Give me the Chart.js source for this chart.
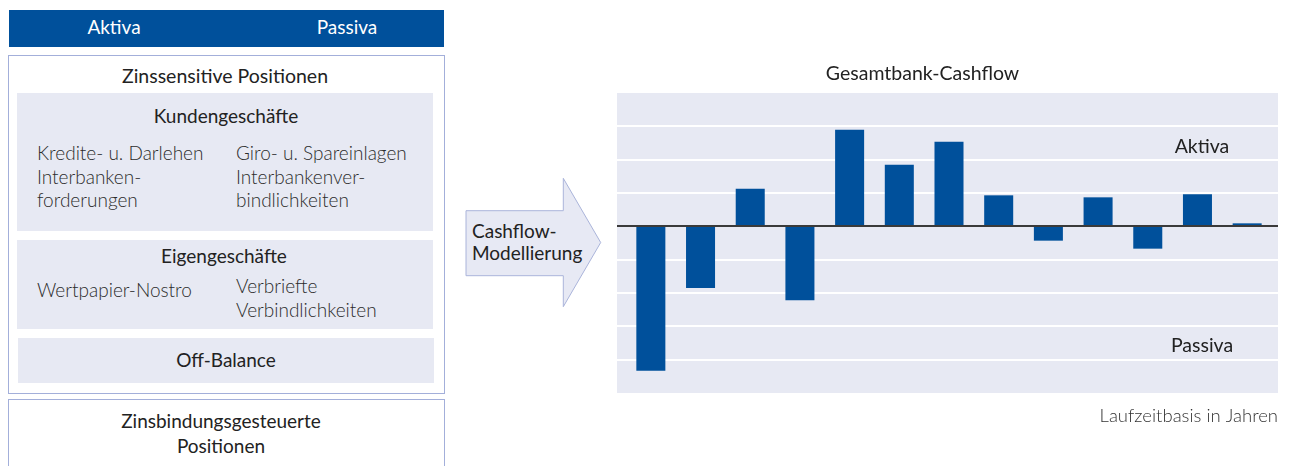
<!DOCTYPE html>
<html><head><meta charset="utf-8">
<script src="https://cdn.jsdelivr.net/npm/chart.js@4.4.1/dist/chart.umd.min.js"></script>
<style>
html,body{margin:0;padding:0;background:#fff;}
body{width:1292px;height:466px;position:relative;overflow:hidden;font-family:Lato,"Noto Sans",sans-serif;}
.t{position:absolute;font-size:19px;line-height:23.5px;color:#222;white-space:nowrap;}
.c{transform:translateX(-50%);text-align:center;}
.l{font-weight:300;color:#2c2c2c;}
.w{color:#fff;}
.box{position:absolute;border:1.5px solid #a3afda;box-sizing:border-box;background:#fff;}
.gray{position:absolute;background:#e7e9f3;}
#c{position:absolute;left:0;top:0;z-index:5;pointer-events:none;}
</style></head>
<body>
<div style="position:absolute;left:9px;top:10px;width:435px;height:37px;background:#00509b;"></div>
<div class="t c w" style="left:114px;top:15px;">Aktiva</div>
<div class="t c w" style="left:347px;top:15px;">Passiva</div>

<div class="box" style="left:8px;top:55px;width:437px;height:339px;"></div>
<div class="t c" style="left:225px;top:64px;font-size:19.5px;">Zinssensitive Positionen</div>

<div class="gray" style="left:17px;top:93px;width:416px;height:138px;"></div>
<div class="t c" style="left:226px;top:104px;">Kundengeschäfte</div>
<div class="t l" style="left:37px;top:141px;">Kredite- u. Darlehen<br>Interbanken-<br>forderungen</div>
<div class="t l" style="left:236px;top:141px;">Giro- u. Spareinlagen<br>Interbankenver-<br>bindlichkeiten</div>

<div class="gray" style="left:17px;top:240px;width:416px;height:89px;"></div>
<div class="t c" style="left:224px;top:244px;">Eigengeschäfte</div>
<div class="t l" style="left:37px;top:278px;">Wertpapier-Nostro</div>
<div class="t l" style="left:236px;top:274px;">Verbriefte<br>Verbindlichkeiten</div>

<div class="gray" style="left:18px;top:338px;width:416px;height:45px;"></div>
<div class="t c" style="left:226px;top:348px;">Off-Balance</div>

<div class="box" style="left:8px;top:399px;width:437px;height:80px;"></div>
<div class="t c" style="left:221px;top:408px;line-height:25px;">Zinsbindungsgesteuerte<br>Positionen</div>

<svg style="position:absolute;left:0;top:0;" width="1292" height="466">
<polygon points="466,210.7 563.3,210.7 563.3,178.3 600.7,242.5 563.3,306.7 563.3,275.7 466,275.7" fill="#e7e9f4" stroke="#aab4da" stroke-width="1"/>
</svg>
<div class="t" style="left:472px;top:220px;line-height:21.5px;">Cashflow-<br>Modellierung</div>

<canvas id="c" width="1292" height="466"></canvas>
<script>
// Laufzeitbänder (Jahre) und Gesamtbank-Cashflow
const years = ['1','2','3','4','5','6','7','8','9','10','11','12','13'];
const cashflow = [-4.33, -1.85, 1.13, -2.22, 2.90, 1.85, 2.54, 0.93, -0.43, 0.87, -0.67, 0.96, 0.09];
const yMin = -5;
const yMax = 4;
const chartTitle = 'Gesamtbank-Cashflow';
const upperLabel = 'Aktiva';
const lowerLabel = 'Passiva';
const axisCaption = 'Laufzeitbasis in Jahren';

const plotDecor = {
  id: 'plotDecor',
  beforeDatasetsDraw(chart) {
    const {ctx, chartArea: a, scales: {y}} = chart;
    const L = a.left - 9, R = a.right + 6;
    ctx.save();
    ctx.fillStyle = '#e7e9f3';
    ctx.fillRect(L, a.top, R - L, a.height);
    y.ticks.forEach(t => {
      if (t.value === yMin || t.value === yMax || t.value === 0) return;
      const py = Math.round(y.getPixelForValue(t.value));
      ctx.strokeStyle = '#ffffff';
      ctx.lineWidth = 2;
      ctx.beginPath(); ctx.moveTo(L, py); ctx.lineTo(R, py); ctx.stroke();
    });
    ctx.restore();
  },
  afterDatasetsDraw(chart) {
    const {ctx, chartArea: a, scales: {y}} = chart;
    const L = a.left - 9, R = a.right + 6;
    const py = Math.round(y.getPixelForValue(0));
    ctx.save();
    ctx.strokeStyle = '#3a3a3a';
    ctx.lineWidth = 2;
    ctx.beginPath(); ctx.moveTo(L, py); ctx.lineTo(R, py); ctx.stroke();
    ctx.fillStyle = '#222';
    ctx.font = '19.5px Lato, "Noto Sans", sans-serif';
    ctx.textBaseline = 'alphabetic';
    ctx.textAlign = 'center';
    ctx.fillText(chartTitle, (L + R) / 2 - 25, a.top - 13);
    ctx.fillText(upperLabel, a.right - 70, y.getPixelForValue(2.21));
    ctx.fillText(lowerLabel, a.right - 70, y.getPixelForValue(-3.76));
    ctx.textAlign = 'right';
    ctx.fillStyle = '#333';
    ctx.font = '300 18.5px Lato, "Noto Sans", sans-serif';
    ctx.fillText(axisCaption, R, a.bottom + 29);
    ctx.restore();
  }
};

new Chart(document.getElementById('c'), {
  type: 'bar',
  data: {
    labels: years,
    datasets: [{
      data: cashflow,
      backgroundColor: '#00509b',
      borderWidth: 0,
      barPercentage: 0.584,
      categoryPercentage: 1
    }]
  },
  options: {
    responsive: false,
    animation: false,
    devicePixelRatio: 1,
    layout: {padding: {left: 626, right: 20, top: 93, bottom: 73}},
    plugins: {legend: {display: false}, tooltip: {enabled: false}, title: {display: false}},
    scales: {
      x: {display: false, offset: true},
      y: {
        min: yMin, max: yMax,
        ticks: {display: false, stepSize: 1},
        grid: {display: false, drawTicks: false},
        border: {display: false}
      }
    }
  },
  plugins: [plotDecor]
});
</script>
</body></html>
